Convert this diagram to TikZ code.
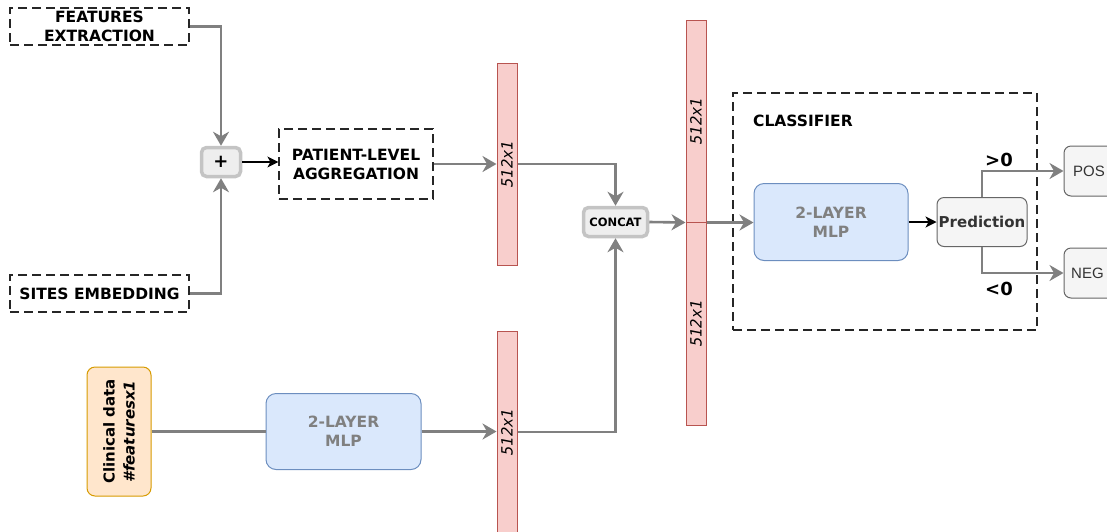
\documentclass[tikz,border=0pt]{standalone}
\usepackage{fontspec}
\setmainfont{DejaVu Sans}
\newfontfamily\helv{Liberation Sans}
\newfontfamily\monof{DejaVu Sans Mono}
\usetikzlibrary{arrows.meta}
\definecolor{lgray}{HTML}{808080}
\definecolor{barfill}{HTML}{F8CECC}
\definecolor{barline}{HTML}{B85450}
\definecolor{bluefill}{HTML}{DAE8FC}
\definecolor{blueline}{HTML}{6C8EBF}
\definecolor{orfill}{HTML}{FFE6CC}
\definecolor{orline}{HTML}{D79B00}
\definecolor{predfill}{HTML}{F5F5F5}
\definecolor{predline}{HTML}{666666}
\definecolor{opfill}{HTML}{EEEEEE}
\definecolor{opline}{HTML}{C4C4C4}
\definecolor{darktext}{HTML}{333333}
\tikzset{
  dbox/.style={draw=black!85, dash pattern=on 9pt off 5pt, line width=1.2pt, inner sep=0pt, align=center, font=\fontsize{15.5}{19}\selectfont\bfseries},
  opbox/.style={draw=opline, line width=3.5pt, fill=opfill, rounded corners=5pt, inner sep=0pt, font=\bfseries},
  bar/.style={draw=barline, fill=barfill, line width=1pt, minimum width=20pt, inner sep=0pt},
  bartext/.style={rotate=90, font=\fontsize{15.5}{17}\selectfont\monof\itshape},
  mlp/.style={draw=blueline, fill=bluefill, line width=1pt, rounded corners=10pt, inner sep=0pt, align=center, text=lgray, font=\fontsize{15.5}{19}\selectfont\bfseries},
  outbox/.style={draw=predline, fill=predfill, line width=1pt, rounded corners=7pt, inner sep=0pt},
  garrow/.style={draw=lgray, line width=2.6pt, -{Stealth[length=14pt,width=16pt,inset=4.5pt]}},
  gline/.style={draw=lgray, line width=2.6pt},
  barrow/.style={draw=black, line width=1.2pt, -{Stealth[length=11pt,width=11pt,inset=3pt]}},
}
\begin{document}
\begin{tikzpicture}[x=1pt,y=-1pt]
\useasboundingbox (0,0) rectangle (1107,531);
% left column
\node[dbox, minimum width=179pt, minimum height=37pt] (fe) at (99.5,26.5) {FEATURES\\EXTRACTION};
\node[dbox, minimum width=179pt, minimum height=37pt] (se) at (99.5,293.5) {SITES EMBEDDING};
\node[opbox, minimum width=39pt, minimum height=29pt, font=\fontsize{18}{18}\selectfont\bfseries] (plus) at (221,162) {+};
\node[dbox, minimum width=154pt, minimum height=70pt] (pla) at (356,164) {PATIENT-LEVEL\\AGGREGATION};
% bars
\node[bar, minimum height=202pt] (bar1) at (507,164) {};
\node[bartext] at (bar1.center) {512x1};
\node[bar, minimum height=202pt] (bar2) at (507,432) {};
\node[bartext] at (bar2.center) {512x1};
\node[bar, minimum height=202pt] (bar3a) at (696,121) {};
\node[bartext] at (bar3a.center) {512x1};
\node[bar, minimum height=203pt] (bar3b) at (696,323.5) {};
\node[bartext] at (bar3b.center) {512x1};
% concat
\node[opbox, minimum width=64pt, minimum height=29pt, font=\fontsize{11.5}{11.5}\selectfont\bfseries] (concat) at (615.5,222) {CONCAT};
% clinical
\node[draw=orline, fill=orfill, line width=1pt, rounded corners=8pt, minimum width=64pt, minimum height=129pt, inner sep=0pt] (clin) at (119,431.5) {};
\node[rotate=90, align=center, font=\fontsize{15}{20}\selectfont\bfseries] at (clin.center) {Clinical data\\\textit{\#featuresx1}};
\node[mlp, minimum width=155pt, minimum height=76pt] (mlp1) at (343.5,431.5) {2-LAYER\\MLP};
% classifier
\node[draw=black!85, dash pattern=on 9pt off 5pt, line width=1.2pt, minimum width=304pt, minimum height=237pt, inner sep=0pt] (cls) at (885,211.5) {};
\node[anchor=west, inner sep=0pt, font=\fontsize{15.5}{17}\selectfont\bfseries] (clslab) at (753,121) {CLASSIFIER};
\node[mlp, minimum width=154pt, minimum height=77pt] (mlp2) at (831,222) {2-LAYER\\MLP};
\node[outbox, minimum width=90pt, minimum height=49pt, text=darktext, font=\fontsize{15}{17}\selectfont\bfseries] (pred) at (982,222) {Prediction};
\node[outbox, minimum width=56pt, minimum height=50pt] (pos) at (1092,171) {};
\node[anchor=west, inner sep=0pt, font=\fontsize{15}{17}\selectfont\helv, text=darktext] (postext) at (1073,171) {POS};
\node[outbox, minimum width=56pt, minimum height=50pt] (neg) at (1092,273) {};
\node[anchor=west, inner sep=0pt, font=\fontsize{15}{17}\selectfont\helv, text=darktext] (negtext) at (1071,273) {NEG};
\node[font=\fontsize{18}{18}\selectfont\bfseries, inner sep=0pt] (gt) at (999,160) {>0};
\node[font=\fontsize{18}{18}\selectfont\bfseries, inner sep=0pt] (lt) at (999,289) {<0};
% connectors
\draw[garrow] (fe.east) -| (plus.north);
\draw[garrow] (se.east) -| (plus.south);
\draw[barrow] (plus.east) -- (plus.east -| pla.west);
\draw[garrow] (pla.east) -- (pla.east -| bar1.west);
\draw[garrow] (bar1.east) -| (concat.north);
\draw[gline] (clin.east) -- (clin.east -| mlp1.west);
\draw[garrow] (mlp1.east) -- (mlp1.east -| bar2.west);
\draw[garrow] (bar2.east) -| (concat.south);
\draw[garrow] (concat.east) -- (bar3a.south west);
\draw[garrow] (bar3a.south east) -- (bar3a.south east -| mlp2.west);
\draw[barrow] (mlp2.east) -- (pred.west);
\draw[garrow] (pred.north) |- (pos.west);
\draw[garrow] (pred.south) |- (neg.west);
\end{tikzpicture}
\end{document}
